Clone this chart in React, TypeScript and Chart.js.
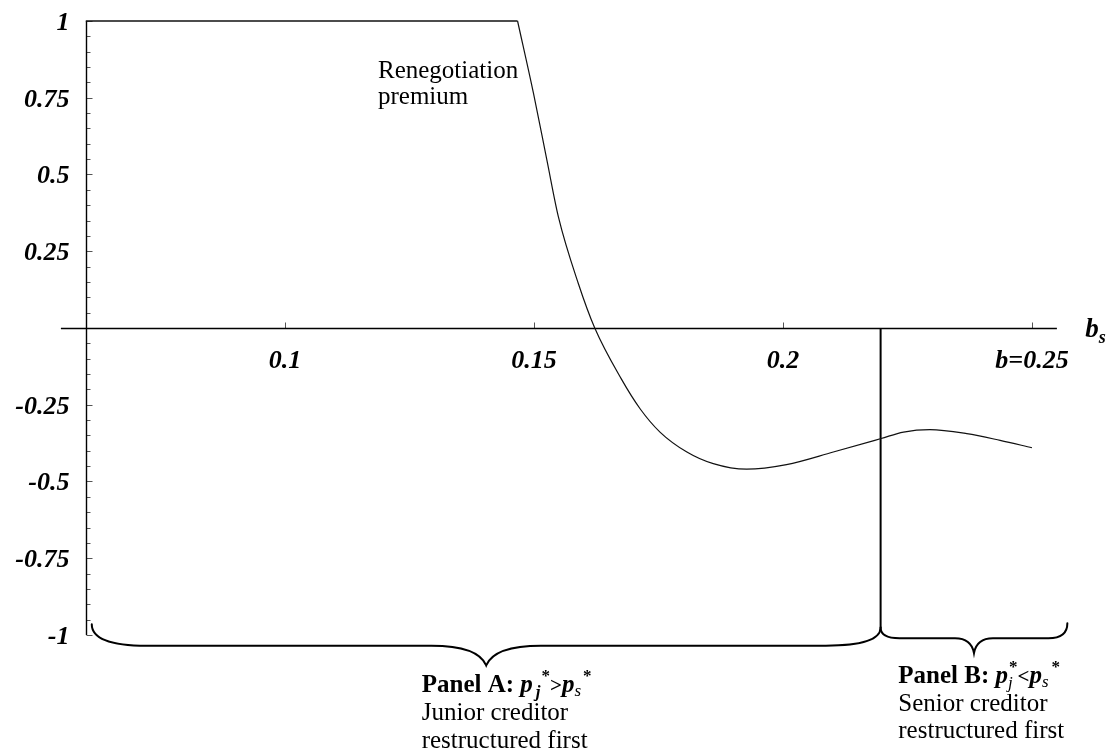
import React, { useEffect, useRef } from "react";
import { Chart, registerables } from "chart.js";

Chart.register(...registerables);

// ---- data ----
const curveX = [0.06, 0.1467, 0.1499, 0.1526, 0.1549, 0.1589, 0.1622, 0.1675, 0.1713, 0.1753, 0.1807, 0.186, 0.1927, 0.2007, 0.2101, 0.2197, 0.2242, 0.2295, 0.2369, 0.2436, 0.25];
const curveY = [1, 1, 0.764, 0.546, 0.362, 0.145, 0, -0.165, -0.263, -0.339, -0.404, -0.442, -0.46, -0.445, -0.404, -0.36, -0.339, -0.331, -0.344, -0.366, -0.39];
const cornerIndex = 1; // where the flat cap at 1 ends

const splitX = [0.2196, 0.2196];
const splitY = [0, -0.976];

const yTickValues = [1, 0.75, 0.5, 0.25, -0.25, -0.5, -0.75, -1];
const yTickLabels = ["1", "0.75", "0.5", "0.25", "-0.25", "-0.5", "-0.75", "-1"];
const xTickValues = [0.1, 0.15, 0.2, 0.25];
const xTickLabels = ["0.1", "0.15", "0.2", "b=0.25"];

const xAxisRange = [0.055, 0.255];
const yAxisRange = [-1, 1];
const yAxisAt = 0.06;

// braces: [left x, right x]
const braceLeft = [0.0612, 0.2196];
const braceRight = [0.2196, 0.2571];
const braceEndLeftY = [-0.965, -0.976];
const braceEndRightY = [-0.976, -0.962];
const braceFlatY = [-1.035, -1.011];
const braceTipY = [-1.099, -1.059];
const braceCurl = [0.011, 0.0038];

const serif = "'Liberation Serif', 'Times New Roman', serif";

type Run = { t: string; f: string; dy?: number; dx?: number; stack?: boolean };

function drawRuns(ctx: CanvasRenderingContext2D, runs: Run[], x: number, y: number) {
  let cx = x;
  let lastX = x;
  for (const r of runs) {
    ctx.font = r.f;
    const start = (r.stack ? lastX : cx) + (r.dx || 0);
    ctx.fillText(r.t, start, y + (r.dy || 0));
    const w = ctx.measureText(r.t).width;
    if (r.stack) {
      cx = Math.max(cx, start + w);
    } else {
      lastX = start;
      cx = start + w;
    }
  }
}

function brace(
  ctx: CanvasRenderingContext2D,
  x1: number, yL: number, x2: number, yR: number,
  yFlat: number, yTip: number, curl: number
) {
  const xm = (x1 + x2) / 2;
  ctx.beginPath();
  ctx.moveTo(x1, yL);
  ctx.quadraticCurveTo(x1, yFlat, x1 + curl, yFlat);
  ctx.lineTo(xm - curl, yFlat);
  ctx.quadraticCurveTo(xm - curl * 0.15, yFlat, xm, yTip);
  ctx.quadraticCurveTo(xm + curl * 0.15, yFlat, xm + curl, yFlat);
  ctx.lineTo(x2 - curl, yFlat);
  ctx.quadraticCurveTo(x2, yFlat, x2, yR);
  ctx.stroke();
}

const decorPlugin = {
  id: "decor",
  beforeDatasetsDraw(chart: any) {
    const ctx: CanvasRenderingContext2D = chart.ctx;
    const xs = chart.scales.x;
    const ys = chart.scales.y;
    const px = (v: number) => xs.getPixelForValue(v);
    const py = (v: number) => ys.getPixelForValue(v);
    ctx.save();
    const ax = Math.round(px(yAxisAt)) + 0.5;
    const ay = Math.round(py(0)) + 0.5;
    // minor + major y ticks
    ctx.strokeStyle = "#555";
    ctx.lineWidth = 1;
    for (let i = -20; i <= 20; i++) {
      const v = i / 20;
      const major = i % 5 === 0;
      const yy = Math.round(py(v)) + 0.5;
      ctx.beginPath();
      ctx.moveTo(ax, yy);
      ctx.lineTo(ax + (major ? 6 : 4), yy);
      ctx.stroke();
    }
    // x ticks
    for (const v of xTickValues) {
      const xx = Math.round(px(v)) + 0.5;
      ctx.beginPath();
      ctx.moveTo(xx, ay);
      ctx.lineTo(xx, ay - 6);
      ctx.stroke();
    }
    // axis lines
    ctx.strokeStyle = "#000";
    ctx.lineWidth = 1.4;
    ctx.beginPath();
    ctx.moveTo(px(xAxisRange[0]), ay);
    ctx.lineTo(px(xAxisRange[1]), ay);
    ctx.moveTo(ax, py(yAxisRange[1]));
    ctx.lineTo(ax, py(yAxisRange[0]));
    ctx.stroke();

    // tick labels
    ctx.fillStyle = "#000";
    ctx.font = `italic bold 26px ${serif}`;
    ctx.textAlign = "right";
    ctx.textBaseline = "alphabetic";
    yTickValues.forEach((v, i) => {
      ctx.fillText(yTickLabels[i], ax - 17, py(v) + 9);
    });
    ctx.textAlign = "center";
    xTickValues.forEach((v, i) => {
      ctx.fillText(xTickLabels[i], px(v), ay + 39);
    });
    ctx.restore();
  },
  afterDatasetsDraw(chart: any) {
    const ctx: CanvasRenderingContext2D = chart.ctx;
    const xs = chart.scales.x;
    const ys = chart.scales.y;
    const px = (v: number) => xs.getPixelForValue(v);
    const py = (v: number) => ys.getPixelForValue(v);
    ctx.save();
    ctx.strokeStyle = "#000";
    ctx.lineWidth = 2;
    ctx.lineCap = "round";
    for (let i = 0; i < braceLeft.length; i++) {
      const curlPx = px(braceLeft[i] + braceCurl[i]) - px(braceLeft[i]);
      brace(ctx, px(braceLeft[i]), py(braceEndLeftY[i]), px(braceRight[i]), py(braceEndRightY[i]),
        py(braceFlatY[i]), py(braceTipY[i]), curlPx);
    }

    ctx.fillStyle = "#000";
    ctx.textAlign = "left";
    ctx.textBaseline = "alphabetic";
    // Renegotiation premium
    ctx.font = `25px ${serif}`;
    const rx = px(0.11867);
    const ry = py(0.815);
    ctx.fillText("Renegotiation", rx, ry);
    ctx.fillText("premium", rx, ry + 26);

    // axis label b_s
    drawRuns(ctx, [
      { t: "b", f: `italic bold 27px ${serif}` },
      { t: "s", f: `italic bold 18px ${serif}`, dy: 6 },
    ], px(0.2607), py(-0.03));

    // Panel A
    const ax0 = px(0.12745);
    const ay0 = py(-1.1847);
    drawRuns(ctx, [
      { t: "Panel A: ", f: `bold 25px ${serif}` },
      { t: "p", f: `italic bold 25px ${serif}` },
      { t: "j", f: `italic bold 17px ${serif}`, dy: 5, dx: 3 },
      { t: "*", f: `bold 17px ${serif}`, dy: -11, dx: 1 },
      { t: ">", f: `bold 21px ${serif}` },
      { t: "p", f: `italic bold 25px ${serif}` },
      { t: "s", f: `italic 17px ${serif}`, dy: 4 },
      { t: "*", f: `bold 17px ${serif}`, dy: -11, dx: 2 },
    ], ax0, ay0);
    ctx.font = `25px ${serif}`;
    ctx.fillText("Junior creditor", ax0, ay0 + 28);
    ctx.fillText("restructured first", ax0, ay0 + 56);

    // Panel B
    const bx0 = px(0.22315);
    const by0 = py(-1.157);
    drawRuns(ctx, [
      { t: "Panel B: ", f: `bold 25px ${serif}` },
      { t: "p", f: `italic bold 25px ${serif}` },
      { t: "j", f: `italic 17px ${serif}`, dy: 5 },
      { t: "*", f: `bold 17px ${serif}`, dy: -11, stack: true, dx: 1 },
      { t: "<", f: `bold 21px ${serif}` },
      { t: "p", f: `italic bold 25px ${serif}` },
      { t: "s", f: `italic 17px ${serif}`, dy: 4 },
      { t: "*", f: `bold 17px ${serif}`, dy: -11, dx: 3 },
    ], bx0, by0);
    ctx.font = `25px ${serif}`;
    ctx.fillText("Senior creditor", bx0, by0 + 28);
    ctx.fillText("restructured first", bx0, by0 + 55);
    ctx.restore();
  },
};

export default function App() {
  const ref = useRef<HTMLCanvasElement | null>(null);
  useEffect(() => {
    if (!ref.current) return;
    const pts = curveX.map((x, i) => ({ x, y: curveY[i] }));
    const cap = pts.slice(0, cornerIndex + 1);
    const drop = pts.slice(cornerIndex);
    const split = splitX.map((x, i) => ({ x, y: splitY[i] }));
    const chart = new Chart(ref.current, {
      type: "scatter",
      data: {
        datasets: [
          {
            data: cap,
            showLine: true,
            borderColor: "#111",
            borderWidth: 1.3,
            pointRadius: 0,
            fill: false,
          },
          {
            data: drop,
            showLine: true,
            borderColor: "#111",
            borderWidth: 1.2,
            pointRadius: 0,
            cubicInterpolationMode: "monotone",
            fill: false,
          },
          {
            data: split,
            showLine: true,
            borderColor: "#000",
            borderWidth: 2,
            pointRadius: 0,
            fill: false,
          },
        ],
      },
      options: {
        animation: false,
        responsive: false,
        events: [],
        layout: { padding: { left: 36, right: 33.2, top: 5.65, bottom: 5.9 } },
        plugins: { legend: { display: false }, tooltip: { enabled: false }, title: { display: false } },
        scales: {
          x: { type: "linear", min: 0.05, max: 0.26, display: false },
          y: { type: "linear", min: -1.375, max: 1.05, display: false },
        },
      },
      plugins: [decorPlugin],
    } as any);
    return () => chart.destroy();
  }, []);
  return (
    <div style={{ position: "fixed", left: 0, top: 0, width: 1115, height: 756, background: "#fff" }}>
      <canvas ref={ref} width={1115} height={756} style={{ display: "block", width: 1115, height: 756 }} />
    </div>
  );
}
